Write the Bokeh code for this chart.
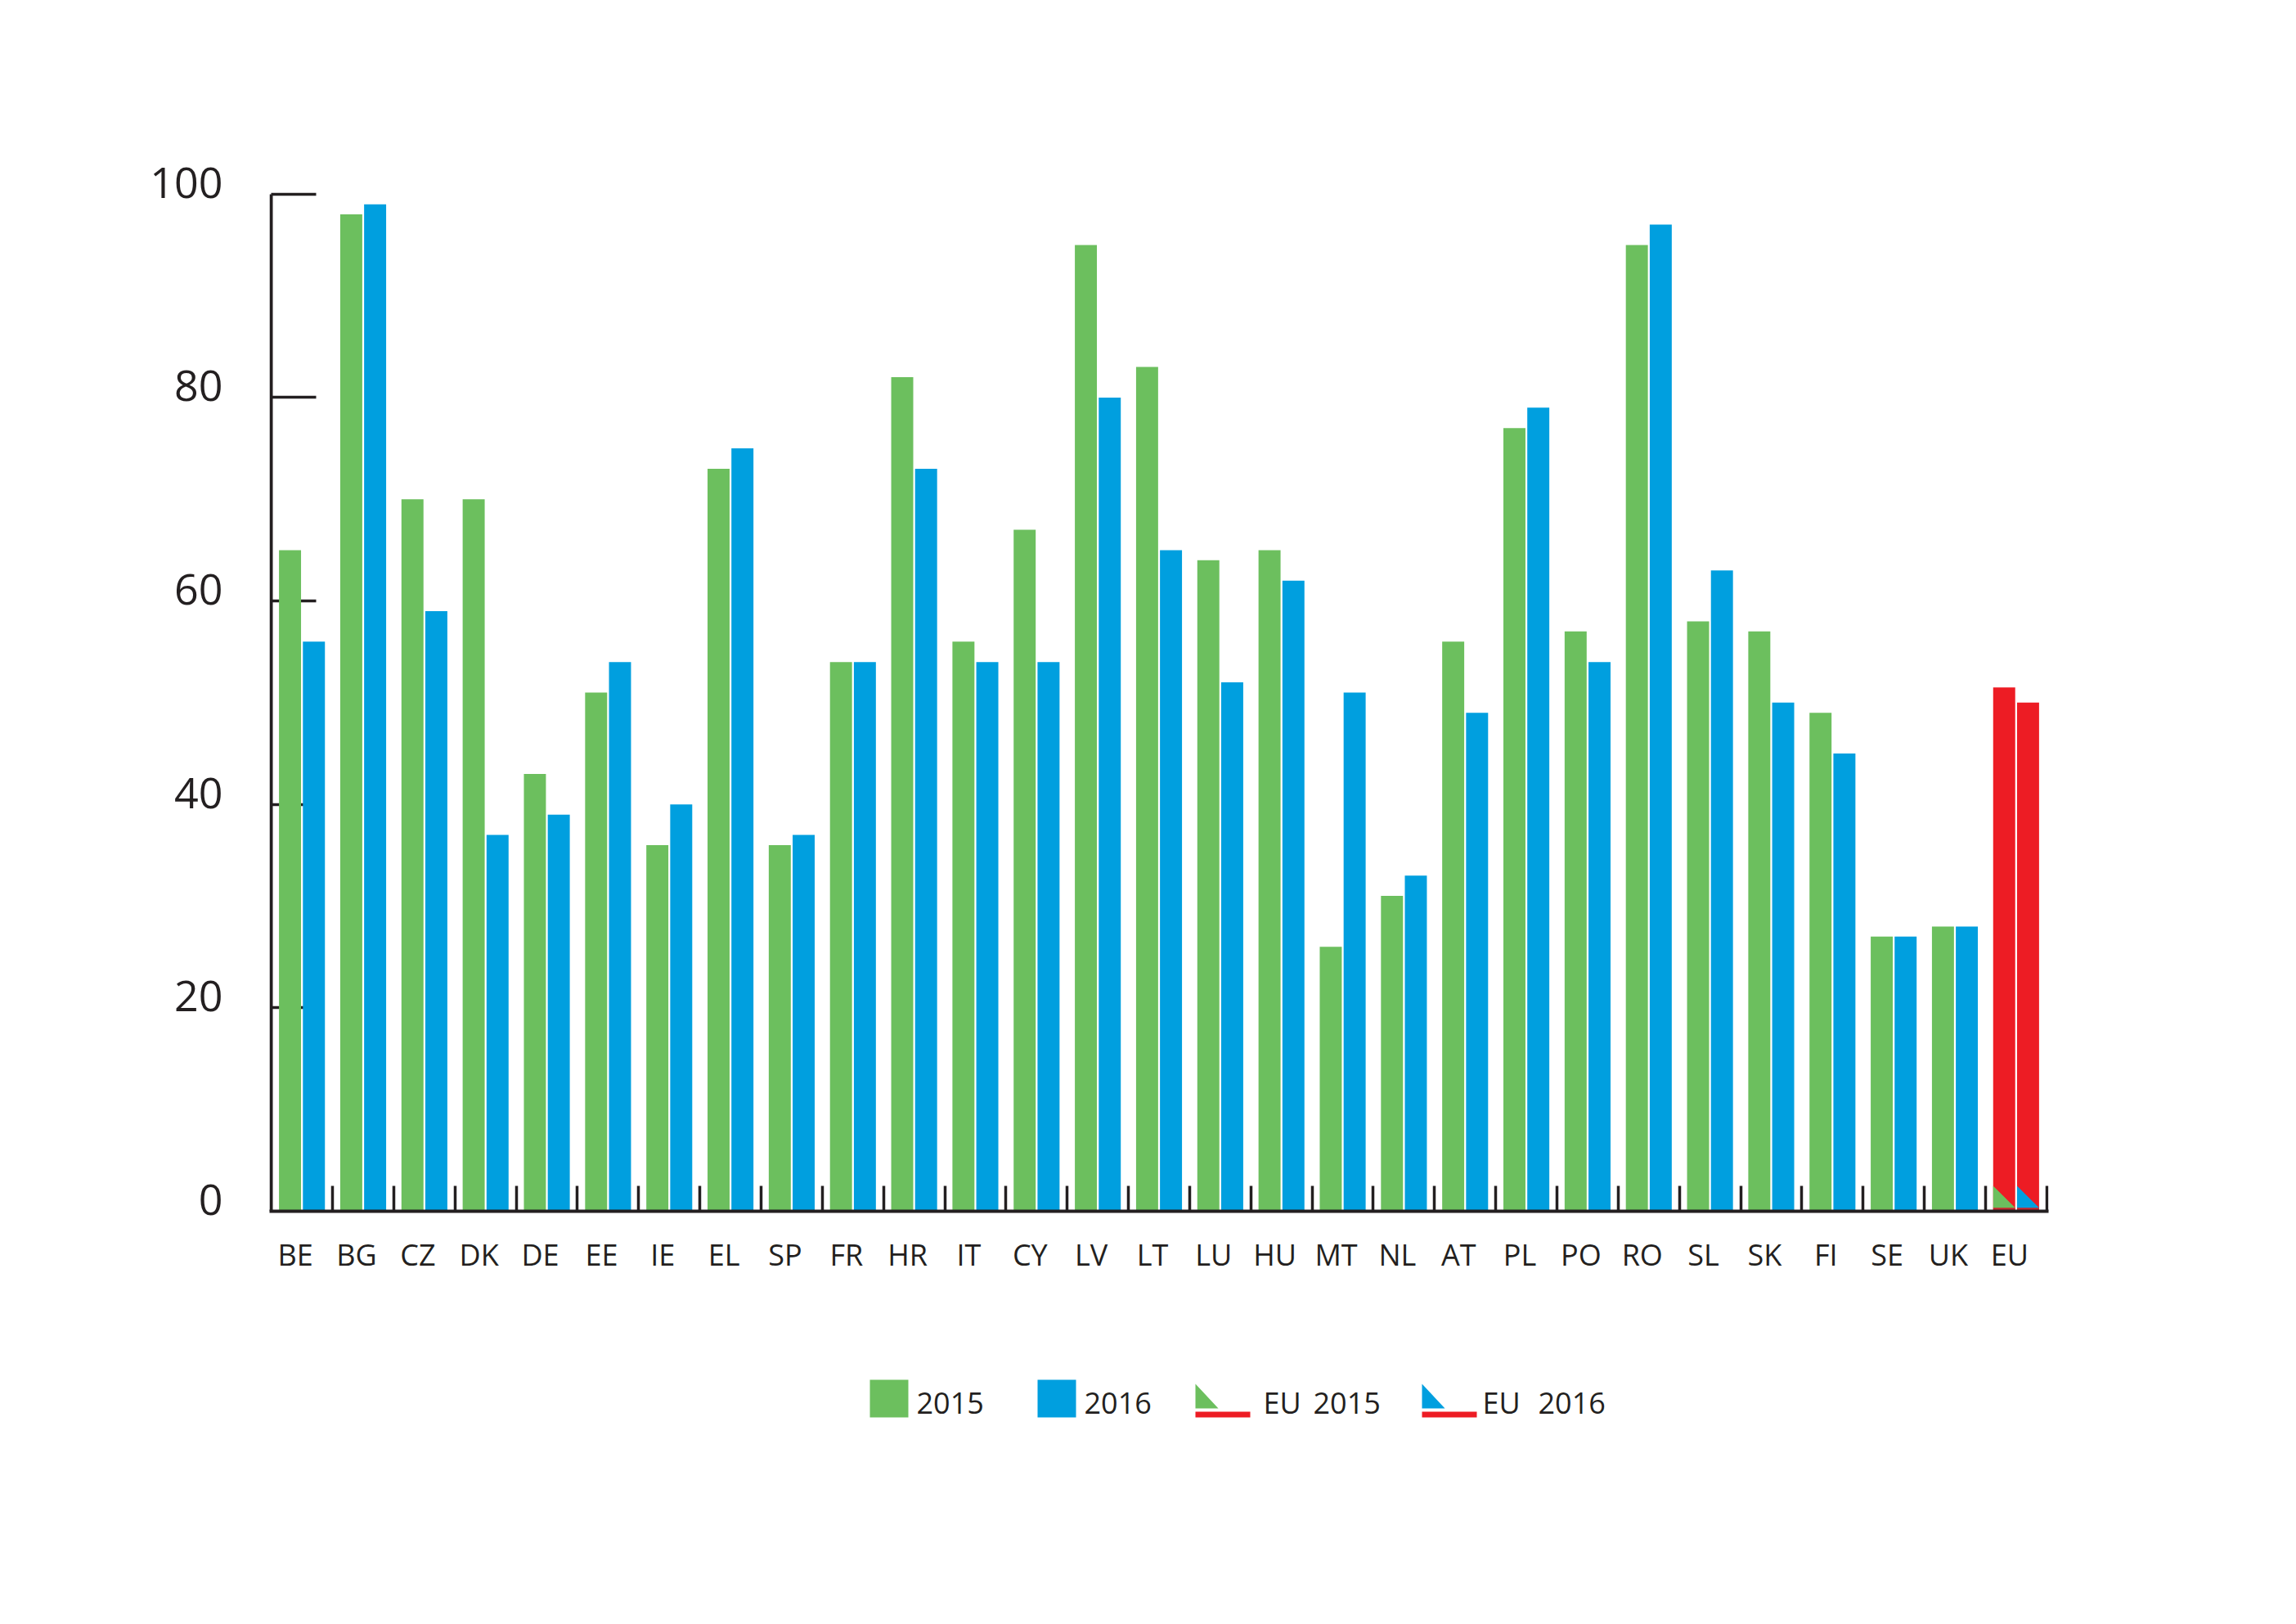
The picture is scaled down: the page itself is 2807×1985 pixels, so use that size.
from bokeh.plotting import figure
from bokeh.models import (Range1d, LinearAxis, FixedTicker, ColumnDataSource, Grid)
from bokeh.layouts import column
from bokeh.embed import file_html
from bokeh.resources import INLINE
from bokeh.core.properties import value

# ---------------- data ----------------
countries = ["BE", "BG", "CZ", "DK", "DE", "EE", "IE", "EL", "SP", "FR", "HR", "IT",
             "CY", "LV", "LT", "LU", "HU", "MT", "NL", "AT", "PL", "PO", "RO", "SL",
             "SK", "FI", "SE", "UK", "EU"]
v2015 = [65, 98, 70, 70, 43, 51, 36, 73, 36, 54, 82, 56,
         67, 95, 83, 64, 65, 26, 31, 56, 77, 57, 95, 58,
         57, 49, 27, 28, 51.5]
v2016 = [56, 99, 59, 37, 39, 54, 40, 75, 37, 54, 73, 54,
         54, 80, 65, 52, 62, 51, 33, 49, 79, 54, 97, 63,
         50, 45, 27, 28, 50]
y_ticks = [0, 20, 40, 60, 80, 100]
legend_labels = ["2015", "2016", "EU 2015", "EU 2016"]

# ---------------- style ----------------
GREEN = "#6cbf5e"
BLUE = "#009fdf"
RED = "#ed1c24"
DARKRED = "#c4272e"
INK = "#231f20"
FONT = "Open Sans"

W = 2780
H1 = 1600
H2 = 350
BW = 0.36     # bar width (category units)
OFF = 0.195   # dodge offset

N = len(countries)
centers = [i + 0.5 for i in range(N)]

# page geometry of the axes: origin and scale
X0_PX, Y0_PX = 331, 1480
PX_X, PX_Y = 74.86, 12.43
LBL_UP = 14 / PX_Y      # y tick labels sit a little above their ticks
LBL_LEFT = 8 / PX_X     # category labels sit a little left of centre
X_START, X_END = -0.03, N + 0.03
Y_START, Y_END = 0, 100 + LBL_UP + 0.3

FRAME_L = round(X0_PX + X_START * PX_X)
FRAME_R = round(X0_PX + X_END * PX_X)
FRAME_T = round(Y0_PX - Y_END * PX_Y)
FRAME_B = Y0_PX
px_x = (FRAME_R - FRAME_L) / (X_END - X_START)
px_y = (FRAME_B - FRAME_T) / (Y_END - Y_START)

p = figure(width=W, height=H1,
           x_range=Range1d(X_START, X_END), y_range=Range1d(Y_START, Y_END),
           output_backend="svg", toolbar_location=None,
           x_axis_location=None, y_axis_location=None,
           min_border_left=FRAME_L, min_border_right=W - FRAME_R,
           min_border_top=FRAME_T, min_border_bottom=H1 - FRAME_B)
p.outline_line_color = None
p.background_fill_color = "white"
p.border_fill_color = "white"
for g in p.grid:
    g.visible = False
p.extra_y_ranges = {"ylab": Range1d(Y_START - LBL_UP, Y_END - LBL_UP)}
p.extra_x_ranges = {"xlab": Range1d(X_START + LBL_LEFT, X_END + LBL_LEFT)}

# y tick labels
yax = LinearAxis(y_range_name="ylab",
                 ticker=FixedTicker(ticks=y_ticks),
                 major_tick_in=0, major_tick_out=0,
                 major_tick_line_color=None,
                 minor_tick_line_color=None,
                 axis_line_color=None,
                 major_label_standoff=int(55 + X_START * -px_x),
                 major_label_text_font=FONT,
                 major_label_text_font_size="52px",
                 major_label_text_color=INK)
p.add_layout(yax, "left")

# y axis line from 0 to 100
yline = Grid(dimension=0, ticker=FixedTicker(ticks=[0]),
             cross_bounds=(0, y_ticks[-1]),
             grid_line_color=INK, grid_line_width=4)
p.add_layout(yline)

# inward y ticks, drawn beneath the bars
ytk = Grid(dimension=1, ticker=FixedTicker(ticks=y_ticks),
           cross_bounds=(0, 55 / px_x),
           grid_line_color=INK, grid_line_width=3.5)
p.add_layout(ytk)

# x axis line + category labels
xlab = LinearAxis(x_range_name="xlab",
                  ticker=FixedTicker(ticks=centers),
                  major_label_overrides={c: n for c, n in zip(centers, countries)},
                  major_tick_line_color=None, minor_tick_line_color=None,
                  major_tick_in=0, major_tick_out=0,
                  axis_line_width=4, axis_line_color=INK,
                  major_label_standoff=28,
                  major_label_text_font=FONT,
                  major_label_text_font_size="36px",
                  major_label_text_color=INK)
p.add_layout(xlab, "below")

# group separator ticks pointing up
xtk = Grid(dimension=0, ticker=FixedTicker(ticks=list(range(1, N + 1))),
           cross_bounds=(0, 31 / px_y),
           grid_line_color=INK, grid_line_width=3.5)
p.add_layout(xtk)

c15 = [RED if c == "EU" else GREEN for c in countries]
c16 = [RED if c == "EU" else BLUE for c in countries]
src = ColumnDataSource(dict(x15=[c - OFF for c in centers],
                            x16=[c + OFF for c in centers],
                            v2015=v2015, v2016=v2016, c15=c15, c16=c16))

p.vbar(x="x15", top="v2015", bottom=0, width=BW, fill_color="c15",
       line_color=None, source=src)
p.vbar(x="x16", top="v2016", bottom=0, width=BW, fill_color="c16",
       line_color=None, source=src)

# EU bars: coloured corner triangles + dark strip
c = centers[countries.index("EU")]
for off, col in [(-OFF, GREEN), (OFF, BLUE)]:
    l, r = c + off - BW / 2, c + off + BW / 2
    p.quad(left=[l], right=[r], bottom=[0], top=[0.35], fill_color=DARKRED,
           line_color=None)
    p.patch(x=[l, l, r], y=[0.35, 2.5, 0.35], fill_color=col, line_color=None)

# ---------------- legend panel ----------------
# same side borders as the main plot, so x data units == page pixels
p2 = figure(width=W, height=H2, x_range=Range1d(FRAME_L, FRAME_R),
            y_range=Range1d(H2, 0),
            output_backend="svg", toolbar_location=None,
            x_axis_location=None, y_axis_location=None,
            min_border_left=FRAME_L, min_border_right=W - FRAME_R,
            min_border_top=0, min_border_bottom=0)
p2.outline_line_color = None
p2.background_fill_color = "white"
p2.border_fill_color = "white"
for g in p2.grid:
    g.visible = False

LY_TOP, LY_BOT = 86, 132
BASE = 114
TXT = dict(text_font=value(FONT), text_font_size=value("36px"),
           text_color=INK, text_baseline="alphabetic", text_align="left")

# square swatches
sq_x = [1063, 1268]
for x0, col, lab in zip(sq_x, [GREEN, BLUE], legend_labels[:2]):
    p2.quad(left=[x0], right=[x0 + 47], top=[LY_TOP], bottom=[LY_BOT],
            fill_color=col, line_color=None)
    p2.text(x=[x0 + 57], y=[BASE], text=[lab], **TXT)

# EU icons
eu_x = [1461, 1738]
eu_txt_x = [1544, 1812]
eu_year_x = [1605, 1880]
for x0, col, lab, tx, yx in zip(eu_x, [GREEN, BLUE], legend_labels[2:],
                                eu_txt_x, eu_year_x):
    p2.patch(x=[x0, x0, x0 + 28], y=[LY_BOT - 11, LY_TOP + 5, LY_BOT - 11],
             fill_color=col, line_color=None)
    p2.quad(left=[x0], right=[x0 + 67], top=[LY_BOT - 7], bottom=[LY_BOT],
            fill_color=RED, line_color=None)
    a, b = lab.split()
    p2.text(x=[tx], y=[BASE], text=[a], **TXT)
    p2.text(x=[yx], y=[BASE], text=[b], **TXT)

layout = column(p, p2)
open("out.html", "w").write(file_html(layout, INLINE))
